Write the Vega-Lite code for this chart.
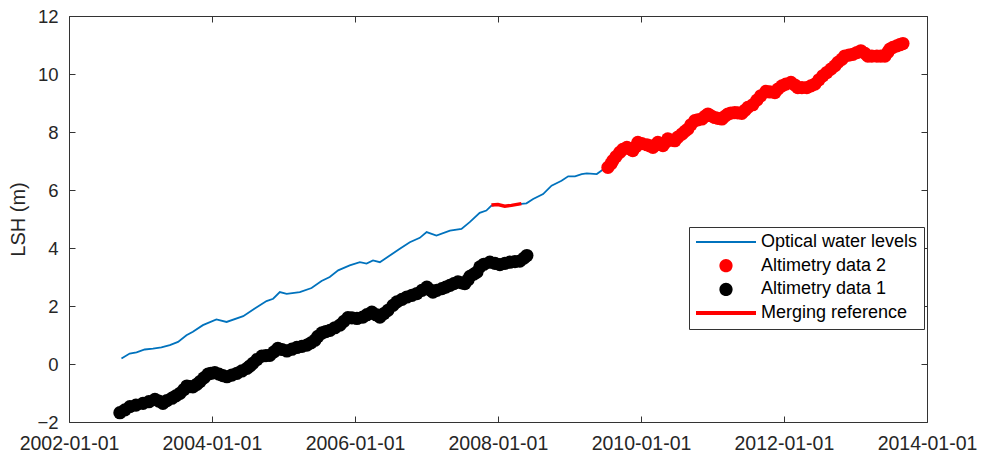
{
  "$schema": "https://vega.github.io/schema/vega-lite/v6.json",
  "width": 858,
  "height": 406,
  "autosize": {"type": "none"},
  "padding": {"left": 69, "top": 16, "right": 55, "bottom": 36},
  "background": "white",
  "config": {
    "view": {"stroke": "#333333", "strokeWidth": 1},
    "axis": {
      "domain": false,
      "grid": false,
      "labelFont": "Liberation Sans",
      "labelFontSize": 18.5,
      "labelColor": "#262626",
      "labelOverlap": false,
      "labelFlush": false,
      "labelBound": false,
      "tickColor": "#333333",
      "tickSize": -6,
      "tickWidth": 1,
      "titleFont": "Liberation Sans",
      "titleFontWeight": "normal",
      "titleColor": "#262626"
    }
  },
  "data": {
    "values": [
      {"date": "2002-09-26", "lsh": 0.19, "series": "Optical water levels"},
      {"date": "2002-11-07", "lsh": 0.36, "series": "Optical water levels"},
      {"date": "2002-12-12", "lsh": 0.40, "series": "Optical water levels"},
      {"date": "2003-01-23", "lsh": 0.50, "series": "Optical water levels"},
      {"date": "2003-03-06", "lsh": 0.53, "series": "Optical water levels"},
      {"date": "2003-04-18", "lsh": 0.57, "series": "Optical water levels"},
      {"date": "2003-05-31", "lsh": 0.65, "series": "Optical water levels"},
      {"date": "2003-07-12", "lsh": 0.76, "series": "Optical water levels"},
      {"date": "2003-08-24", "lsh": 0.99, "series": "Optical water levels"},
      {"date": "2003-09-26", "lsh": 1.11, "series": "Optical water levels"},
      {"date": "2003-11-16", "lsh": 1.34, "series": "Optical water levels"},
      {"date": "2004-01-24", "lsh": 1.54, "series": "Optical water levels"},
      {"date": "2004-03-16", "lsh": 1.45, "series": "Optical water levels"},
      {"date": "2004-06-09", "lsh": 1.65, "series": "Optical water levels"},
      {"date": "2004-08-07", "lsh": 1.91, "series": "Optical water levels"},
      {"date": "2004-10-06", "lsh": 2.17, "series": "Optical water levels"},
      {"date": "2004-11-09", "lsh": 2.25, "series": "Optical water levels"},
      {"date": "2004-12-13", "lsh": 2.48, "series": "Optical water levels"},
      {"date": "2005-01-17", "lsh": 2.42, "series": "Optical water levels"},
      {"date": "2005-03-25", "lsh": 2.48, "series": "Optical water levels"},
      {"date": "2005-05-24", "lsh": 2.62, "series": "Optical water levels"},
      {"date": "2005-07-14", "lsh": 2.86, "series": "Optical water levels"},
      {"date": "2005-08-25", "lsh": 3.00, "series": "Optical water levels"},
      {"date": "2005-10-07", "lsh": 3.23, "series": "Optical water levels"},
      {"date": "2005-12-05", "lsh": 3.40, "series": "Optical water levels"},
      {"date": "2006-01-26", "lsh": 3.51, "series": "Optical water levels"},
      {"date": "2006-03-01", "lsh": 3.46, "series": "Optical water levels"},
      {"date": "2006-04-03", "lsh": 3.57, "series": "Optical water levels"},
      {"date": "2006-05-08", "lsh": 3.51, "series": "Optical water levels"},
      {"date": "2006-06-28", "lsh": 3.74, "series": "Optical water levels"},
      {"date": "2006-08-18", "lsh": 3.97, "series": "Optical water levels"},
      {"date": "2006-10-08", "lsh": 4.20, "series": "Optical water levels"},
      {"date": "2006-11-28", "lsh": 4.35, "series": "Optical water levels"},
      {"date": "2007-01-02", "lsh": 4.55, "series": "Optical water levels"},
      {"date": "2007-02-21", "lsh": 4.43, "series": "Optical water levels"},
      {"date": "2007-05-01", "lsh": 4.60, "series": "Optical water levels"},
      {"date": "2007-06-29", "lsh": 4.66, "series": "Optical water levels"},
      {"date": "2007-08-10", "lsh": 4.89, "series": "Optical water levels"},
      {"date": "2007-09-30", "lsh": 5.21, "series": "Optical water levels"},
      {"date": "2007-11-03", "lsh": 5.29, "series": "Optical water levels"},
      {"date": "2007-11-29", "lsh": 5.46, "series": "Optical water levels"},
      {"date": "2008-01-01", "lsh": 5.50, "series": "Optical water levels"},
      {"date": "2008-02-05", "lsh": 5.44, "series": "Optical water levels"},
      {"date": "2008-03-10", "lsh": 5.47, "series": "Optical water levels"},
      {"date": "2008-04-30", "lsh": 5.52, "series": "Optical water levels"},
      {"date": "2008-05-26", "lsh": 5.54, "series": "Optical water levels"},
      {"date": "2008-06-29", "lsh": 5.69, "series": "Optical water levels"},
      {"date": "2008-08-19", "lsh": 5.86, "series": "Optical water levels"},
      {"date": "2008-10-01", "lsh": 6.15, "series": "Optical water levels"},
      {"date": "2008-11-21", "lsh": 6.32, "series": "Optical water levels"},
      {"date": "2008-12-25", "lsh": 6.47, "series": "Optical water levels"},
      {"date": "2009-01-29", "lsh": 6.47, "series": "Optical water levels"},
      {"date": "2009-03-04", "lsh": 6.55, "series": "Optical water levels"},
      {"date": "2009-03-30", "lsh": 6.57, "series": "Optical water levels"},
      {"date": "2009-05-20", "lsh": 6.55, "series": "Optical water levels"},
      {"date": "2009-06-14", "lsh": 6.67, "series": "Optical water levels"},
      {"date": "2009-07-10", "lsh": 6.78, "series": "Optical water levels"},
      {"date": "2007-11-29", "lsh": 5.48, "series": "Merging reference"},
      {"date": "2008-01-01", "lsh": 5.50, "series": "Merging reference"},
      {"date": "2008-02-05", "lsh": 5.44, "series": "Merging reference"},
      {"date": "2008-03-10", "lsh": 5.47, "series": "Merging reference"},
      {"date": "2008-04-30", "lsh": 5.53, "series": "Merging reference"},
      {"date": "2002-09-18", "lsh": -1.68, "series": "Altimetry data 1"},
      {"date": "2002-10-14", "lsh": -1.58, "series": "Altimetry data 1"},
      {"date": "2002-11-08", "lsh": -1.47, "series": "Altimetry data 1"},
      {"date": "2002-12-09", "lsh": -1.42, "series": "Altimetry data 1"},
      {"date": "2003-01-14", "lsh": -1.36, "series": "Altimetry data 1"},
      {"date": "2003-02-13", "lsh": -1.30, "series": "Altimetry data 1"},
      {"date": "2003-03-16", "lsh": -1.22, "series": "Altimetry data 1"},
      {"date": "2003-04-05", "lsh": -1.28, "series": "Altimetry data 1"},
      {"date": "2003-04-26", "lsh": -1.36, "series": "Altimetry data 1"},
      {"date": "2003-05-16", "lsh": -1.26, "series": "Altimetry data 1"},
      {"date": "2003-06-11", "lsh": -1.18, "series": "Altimetry data 1"},
      {"date": "2003-07-01", "lsh": -1.10, "series": "Altimetry data 1"},
      {"date": "2003-07-22", "lsh": -1.01, "series": "Altimetry data 1"},
      {"date": "2003-08-11", "lsh": -0.88, "series": "Altimetry data 1"},
      {"date": "2003-08-26", "lsh": -0.76, "series": "Altimetry data 1"},
      {"date": "2003-09-11", "lsh": -0.78, "series": "Altimetry data 1"},
      {"date": "2003-09-26", "lsh": -0.79, "series": "Altimetry data 1"},
      {"date": "2003-10-16", "lsh": -0.70, "series": "Altimetry data 1"},
      {"date": "2003-11-01", "lsh": -0.61, "series": "Altimetry data 1"},
      {"date": "2003-11-21", "lsh": -0.48, "series": "Altimetry data 1"},
      {"date": "2003-12-12", "lsh": -0.35, "series": "Altimetry data 1"},
      {"date": "2003-12-27", "lsh": -0.32, "series": "Altimetry data 1"},
      {"date": "2004-01-16", "lsh": -0.30, "series": "Altimetry data 1"},
      {"date": "2004-02-06", "lsh": -0.35, "series": "Altimetry data 1"},
      {"date": "2004-02-26", "lsh": -0.40, "series": "Altimetry data 1"},
      {"date": "2004-03-18", "lsh": -0.44, "series": "Altimetry data 1"},
      {"date": "2004-04-12", "lsh": -0.38, "series": "Altimetry data 1"},
      {"date": "2004-05-08", "lsh": -0.32, "series": "Altimetry data 1"},
      {"date": "2004-06-02", "lsh": -0.24, "series": "Altimetry data 1"},
      {"date": "2004-06-28", "lsh": -0.15, "series": "Altimetry data 1"},
      {"date": "2004-07-13", "lsh": -0.07, "series": "Altimetry data 1"},
      {"date": "2004-07-28", "lsh": 0.02, "series": "Altimetry data 1"},
      {"date": "2004-08-18", "lsh": 0.15, "series": "Altimetry data 1"},
      {"date": "2004-09-12", "lsh": 0.27, "series": "Altimetry data 1"},
      {"date": "2004-10-03", "lsh": 0.29, "series": "Altimetry data 1"},
      {"date": "2004-10-23", "lsh": 0.30, "series": "Altimetry data 1"},
      {"date": "2004-11-13", "lsh": 0.42, "series": "Altimetry data 1"},
      {"date": "2004-12-03", "lsh": 0.54, "series": "Altimetry data 1"},
      {"date": "2004-12-24", "lsh": 0.50, "series": "Altimetry data 1"},
      {"date": "2005-01-18", "lsh": 0.45, "series": "Altimetry data 1"},
      {"date": "2005-02-13", "lsh": 0.51, "series": "Altimetry data 1"},
      {"date": "2005-03-10", "lsh": 0.57, "series": "Altimetry data 1"},
      {"date": "2005-04-05", "lsh": 0.61, "series": "Altimetry data 1"},
      {"date": "2005-04-30", "lsh": 0.65, "series": "Altimetry data 1"},
      {"date": "2005-05-21", "lsh": 0.73, "series": "Altimetry data 1"},
      {"date": "2005-06-10", "lsh": 0.82, "series": "Altimetry data 1"},
      {"date": "2005-06-25", "lsh": 0.95, "series": "Altimetry data 1"},
      {"date": "2005-07-16", "lsh": 1.07, "series": "Altimetry data 1"},
      {"date": "2005-08-05", "lsh": 1.12, "series": "Altimetry data 1"},
      {"date": "2005-08-26", "lsh": 1.16, "series": "Altimetry data 1"},
      {"date": "2005-09-20", "lsh": 1.25, "series": "Altimetry data 1"},
      {"date": "2005-10-16", "lsh": 1.34, "series": "Altimetry data 1"},
      {"date": "2005-11-05", "lsh": 1.47, "series": "Altimetry data 1"},
      {"date": "2005-11-26", "lsh": 1.60, "series": "Altimetry data 1"},
      {"date": "2005-12-16", "lsh": 1.59, "series": "Altimetry data 1"},
      {"date": "2006-01-11", "lsh": 1.57, "series": "Altimetry data 1"},
      {"date": "2006-02-10", "lsh": 1.62, "series": "Altimetry data 1"},
      {"date": "2006-03-03", "lsh": 1.70, "series": "Altimetry data 1"},
      {"date": "2006-03-28", "lsh": 1.79, "series": "Altimetry data 1"},
      {"date": "2006-04-18", "lsh": 1.70, "series": "Altimetry data 1"},
      {"date": "2006-05-08", "lsh": 1.62, "series": "Altimetry data 1"},
      {"date": "2006-05-29", "lsh": 1.74, "series": "Altimetry data 1"},
      {"date": "2006-06-18", "lsh": 1.85, "series": "Altimetry data 1"},
      {"date": "2006-07-14", "lsh": 2.02, "series": "Altimetry data 1"},
      {"date": "2006-08-03", "lsh": 2.14, "series": "Altimetry data 1"},
      {"date": "2006-08-29", "lsh": 2.23, "series": "Altimetry data 1"},
      {"date": "2006-09-23", "lsh": 2.31, "series": "Altimetry data 1"},
      {"date": "2006-10-19", "lsh": 2.37, "series": "Altimetry data 1"},
      {"date": "2006-11-13", "lsh": 2.43, "series": "Altimetry data 1"},
      {"date": "2006-12-09", "lsh": 2.54, "series": "Altimetry data 1"},
      {"date": "2007-01-03", "lsh": 2.65, "series": "Altimetry data 1"},
      {"date": "2007-01-19", "lsh": 2.56, "series": "Altimetry data 1"},
      {"date": "2007-02-03", "lsh": 2.48, "series": "Altimetry data 1"},
      {"date": "2007-02-23", "lsh": 2.54, "series": "Altimetry data 1"},
      {"date": "2007-03-21", "lsh": 2.60, "series": "Altimetry data 1"},
      {"date": "2007-04-10", "lsh": 2.65, "series": "Altimetry data 1"},
      {"date": "2007-05-01", "lsh": 2.71, "series": "Altimetry data 1"},
      {"date": "2007-05-21", "lsh": 2.77, "series": "Altimetry data 1"},
      {"date": "2007-06-11", "lsh": 2.83, "series": "Altimetry data 1"},
      {"date": "2007-07-01", "lsh": 2.80, "series": "Altimetry data 1"},
      {"date": "2007-07-16", "lsh": 2.77, "series": "Altimetry data 1"},
      {"date": "2007-08-01", "lsh": 2.90, "series": "Altimetry data 1"},
      {"date": "2007-08-11", "lsh": 3.02, "series": "Altimetry data 1"},
      {"date": "2007-08-31", "lsh": 3.10, "series": "Altimetry data 1"},
      {"date": "2007-09-16", "lsh": 3.17, "series": "Altimetry data 1"},
      {"date": "2007-10-01", "lsh": 3.35, "series": "Altimetry data 1"},
      {"date": "2007-10-21", "lsh": 3.44, "series": "Altimetry data 1"},
      {"date": "2007-11-21", "lsh": 3.51, "series": "Altimetry data 1"},
      {"date": "2007-12-17", "lsh": 3.47, "series": "Altimetry data 1"},
      {"date": "2008-01-11", "lsh": 3.43, "series": "Altimetry data 1"},
      {"date": "2008-02-06", "lsh": 3.47, "series": "Altimetry data 1"},
      {"date": "2008-03-02", "lsh": 3.51, "series": "Altimetry data 1"},
      {"date": "2008-03-28", "lsh": 3.53, "series": "Altimetry data 1"},
      {"date": "2008-04-22", "lsh": 3.55, "series": "Altimetry data 1"},
      {"date": "2008-05-13", "lsh": 3.65, "series": "Altimetry data 1"},
      {"date": "2008-05-28", "lsh": 3.74, "series": "Altimetry data 1"},
      {"date": "2009-07-16", "lsh": 6.78, "series": "Altimetry data 2"},
      {"date": "2009-07-31", "lsh": 6.90, "series": "Altimetry data 2"},
      {"date": "2009-08-10", "lsh": 7.01, "series": "Altimetry data 2"},
      {"date": "2009-08-26", "lsh": 7.15, "series": "Altimetry data 2"},
      {"date": "2009-09-15", "lsh": 7.30, "series": "Altimetry data 2"},
      {"date": "2009-09-30", "lsh": 7.40, "series": "Altimetry data 2"},
      {"date": "2009-10-21", "lsh": 7.47, "series": "Altimetry data 2"},
      {"date": "2009-11-05", "lsh": 7.42, "series": "Altimetry data 2"},
      {"date": "2009-11-20", "lsh": 7.36, "series": "Altimetry data 2"},
      {"date": "2009-12-06", "lsh": 7.50, "series": "Altimetry data 2"},
      {"date": "2009-12-16", "lsh": 7.64, "series": "Altimetry data 2"},
      {"date": "2010-01-05", "lsh": 7.60, "series": "Altimetry data 2"},
      {"date": "2010-01-31", "lsh": 7.56, "series": "Altimetry data 2"},
      {"date": "2010-02-15", "lsh": 7.52, "series": "Altimetry data 2"},
      {"date": "2010-03-03", "lsh": 7.47, "series": "Altimetry data 2"},
      {"date": "2010-03-18", "lsh": 7.56, "series": "Altimetry data 2"},
      {"date": "2010-03-28", "lsh": 7.64, "series": "Altimetry data 2"},
      {"date": "2010-04-12", "lsh": 7.58, "series": "Altimetry data 2"},
      {"date": "2010-04-23", "lsh": 7.53, "series": "Altimetry data 2"},
      {"date": "2010-05-08", "lsh": 7.65, "series": "Altimetry data 2"},
      {"date": "2010-05-18", "lsh": 7.76, "series": "Altimetry data 2"},
      {"date": "2010-06-08", "lsh": 7.72, "series": "Altimetry data 2"},
      {"date": "2010-06-23", "lsh": 7.70, "series": "Altimetry data 2"},
      {"date": "2010-07-08", "lsh": 7.82, "series": "Altimetry data 2"},
      {"date": "2010-07-29", "lsh": 7.93, "series": "Altimetry data 2"},
      {"date": "2010-08-13", "lsh": 8.02, "series": "Altimetry data 2"},
      {"date": "2010-08-28", "lsh": 8.10, "series": "Altimetry data 2"},
      {"date": "2010-09-13", "lsh": 8.25, "series": "Altimetry data 2"},
      {"date": "2010-10-03", "lsh": 8.39, "series": "Altimetry data 2"},
      {"date": "2010-10-18", "lsh": 8.42, "series": "Altimetry data 2"},
      {"date": "2010-11-08", "lsh": 8.45, "series": "Altimetry data 2"},
      {"date": "2010-11-23", "lsh": 8.54, "series": "Altimetry data 2"},
      {"date": "2010-12-09", "lsh": 8.62, "series": "Altimetry data 2"},
      {"date": "2010-12-24", "lsh": 8.56, "series": "Altimetry data 2"},
      {"date": "2011-01-13", "lsh": 8.50, "series": "Altimetry data 2"},
      {"date": "2011-01-29", "lsh": 8.47, "series": "Altimetry data 2"},
      {"date": "2011-02-18", "lsh": 8.45, "series": "Altimetry data 2"},
      {"date": "2011-03-05", "lsh": 8.54, "series": "Altimetry data 2"},
      {"date": "2011-03-21", "lsh": 8.62, "series": "Altimetry data 2"},
      {"date": "2011-04-05", "lsh": 8.65, "series": "Altimetry data 2"},
      {"date": "2011-04-25", "lsh": 8.67, "series": "Altimetry data 2"},
      {"date": "2011-05-11", "lsh": 8.66, "series": "Altimetry data 2"},
      {"date": "2011-05-31", "lsh": 8.64, "series": "Altimetry data 2"},
      {"date": "2011-06-16", "lsh": 8.75, "series": "Altimetry data 2"},
      {"date": "2011-07-01", "lsh": 8.85, "series": "Altimetry data 2"},
      {"date": "2011-07-26", "lsh": 8.94, "series": "Altimetry data 2"},
      {"date": "2011-08-16", "lsh": 9.10, "series": "Altimetry data 2"},
      {"date": "2011-09-05", "lsh": 9.25, "series": "Altimetry data 2"},
      {"date": "2011-10-01", "lsh": 9.40, "series": "Altimetry data 2"},
      {"date": "2011-10-21", "lsh": 9.38, "series": "Altimetry data 2"},
      {"date": "2011-11-16", "lsh": 9.36, "series": "Altimetry data 2"},
      {"date": "2011-12-01", "lsh": 9.48, "series": "Altimetry data 2"},
      {"date": "2011-12-22", "lsh": 9.59, "series": "Altimetry data 2"},
      {"date": "2012-01-11", "lsh": 9.65, "series": "Altimetry data 2"},
      {"date": "2012-02-06", "lsh": 9.71, "series": "Altimetry data 2"},
      {"date": "2012-02-26", "lsh": 9.62, "series": "Altimetry data 2"},
      {"date": "2012-03-12", "lsh": 9.53, "series": "Altimetry data 2"},
      {"date": "2012-04-02", "lsh": 9.53, "series": "Altimetry data 2"},
      {"date": "2012-04-27", "lsh": 9.53, "series": "Altimetry data 2"},
      {"date": "2012-05-18", "lsh": 9.59, "series": "Altimetry data 2"},
      {"date": "2012-06-07", "lsh": 9.65, "series": "Altimetry data 2"},
      {"date": "2012-06-28", "lsh": 9.80, "series": "Altimetry data 2"},
      {"date": "2012-07-18", "lsh": 9.94, "series": "Altimetry data 2"},
      {"date": "2012-08-07", "lsh": 10.05, "series": "Altimetry data 2"},
      {"date": "2012-08-28", "lsh": 10.17, "series": "Altimetry data 2"},
      {"date": "2012-09-17", "lsh": 10.28, "series": "Altimetry data 2"},
      {"date": "2012-10-03", "lsh": 10.40, "series": "Altimetry data 2"},
      {"date": "2012-10-23", "lsh": 10.51, "series": "Altimetry data 2"},
      {"date": "2012-11-07", "lsh": 10.62, "series": "Altimetry data 2"},
      {"date": "2012-11-28", "lsh": 10.65, "series": "Altimetry data 2"},
      {"date": "2012-12-18", "lsh": 10.68, "series": "Altimetry data 2"},
      {"date": "2013-01-08", "lsh": 10.74, "series": "Altimetry data 2"},
      {"date": "2013-01-28", "lsh": 10.80, "series": "Altimetry data 2"},
      {"date": "2013-02-18", "lsh": 10.71, "series": "Altimetry data 2"},
      {"date": "2013-03-05", "lsh": 10.62, "series": "Altimetry data 2"},
      {"date": "2013-03-25", "lsh": 10.62, "series": "Altimetry data 2"},
      {"date": "2013-04-20", "lsh": 10.62, "series": "Altimetry data 2"},
      {"date": "2013-05-10", "lsh": 10.62, "series": "Altimetry data 2"},
      {"date": "2013-05-31", "lsh": 10.62, "series": "Altimetry data 2"},
      {"date": "2013-06-15", "lsh": 10.75, "series": "Altimetry data 2"},
      {"date": "2013-06-25", "lsh": 10.86, "series": "Altimetry data 2"},
      {"date": "2013-07-11", "lsh": 10.92, "series": "Altimetry data 2"},
      {"date": "2013-07-31", "lsh": 10.97, "series": "Altimetry data 2"},
      {"date": "2013-08-15", "lsh": 11.01, "series": "Altimetry data 2"},
      {"date": "2013-08-31", "lsh": 11.05, "series": "Altimetry data 2"}
    ]
  },
  "encoding": {
    "color": {
      "field": "series",
      "type": "nominal",
      "scale": {
        "domain": ["Optical water levels", "Altimetry data 2", "Altimetry data 1", "Merging reference"],
        "range": ["#0072BD", "#FF0000", "#000000", "#FF0000"]
      },
      "legend": {
        "title": null,
        "orient": "none",
        "legendX": 620,
        "legendY": 211,
        "direction": "vertical",
        "labelFont": "Liberation Sans",
        "labelFontSize": 18,
        "labelColor": "#000000",
        "labelLimit": 400,
        "labelOffset": 26,
        "symbolOffset": 22,
        "strokeColor": "#333333",
        "fillColor": "#ffffff",
        "padding": 6,
        "clipHeight": 18,
        "rowPadding": 5.7,
        "symbolSize": 3600,
        "symbolStrokeWidth": 2,
        "encode": {
          "symbols": {
            "update": {
              "shape": {"signal": "(datum.value === 'Altimetry data 1' || datum.value === 'Altimetry data 2') ? 'M-0.22,0A0.22,0.22,0,1,1,0.22,0A0.22,0.22,0,1,1,-0.22,0Z' : 'M-1,0L1,0'"},
              "size": {"value": 3600},
              "strokeWidth": {"signal": "datum.value === 'Merging reference' ? 4 : (datum.value === 'Optical water levels' ? 2 : 0)"},
              "fill": {"signal": "(datum.value === 'Altimetry data 1' || datum.value === 'Altimetry data 2') ? scale('color', datum.value) : 'transparent'"},
              "stroke": {"signal": "scale('color', datum.value)"},
              "opacity": {"value": 1},
              "fillOpacity": {"value": 1},
              "strokeOpacity": {"value": 1}
            }
          }
        }
      }
    }
  },
  "layer": [
    {
      "transform": [{"filter": "datum.series === 'Optical water levels'"}],
      "mark": {"type": "line", "strokeWidth": 1.8},
      "encoding": {
        "x": {
          "field": "date",
          "type": "temporal",
          "scale": {"type": "utc", "domain": [{"year": 2002, "month": 1, "date": 1, "utc": true}, {"year": 2014, "month": 1, "date": 1, "utc": true}]},
          "axis": {
            "orient": "bottom",
            "title": null,
            "format": "%Y-%m-%d",
            "labelFontSize": 19.5,
            "labelPadding": 18,
            "values": [
              {"year": 2002, "month": 1, "date": 1, "utc": true},
              {"year": 2004, "month": 1, "date": 1, "utc": true},
              {"year": 2006, "month": 1, "date": 1, "utc": true},
              {"year": 2008, "month": 1, "date": 1, "utc": true},
              {"year": 2010, "month": 1, "date": 1, "utc": true},
              {"year": 2012, "month": 1, "date": 1, "utc": true},
              {"year": 2014, "month": 1, "date": 1, "utc": true}
            ]
          }
        },
        "y": {
          "field": "lsh",
          "type": "quantitative",
          "scale": {"domain": [-2, 12], "nice": false, "zero": false},
          "axis": {
            "orient": "left",
            "title": "LSH (m)",
            "titleFontSize": 20,
            "titlePadding": 8,
            "labelPadding": 17,
            "values": [-2, 0, 2, 4, 6, 8, 10, 12]
          }
        }
      }
    },
    {
      "transform": [{"filter": "datum.series === 'Merging reference'"}],
      "mark": {"type": "line", "strokeWidth": 3.5},
      "encoding": {
        "x": {"field": "date", "type": "temporal", "axis": null},
        "y": {"field": "lsh", "type": "quantitative", "axis": null}
      }
    },
    {
      "transform": [{"filter": "datum.series === 'Altimetry data 1' || datum.series === 'Altimetry data 2'"}],
      "mark": {"type": "circle", "size": 175, "opacity": 1},
      "encoding": {
        "x": {
          "field": "date",
          "type": "temporal",
          "axis": {
            "orient": "top",
            "title": null,
            "labels": false,
            "values": [
              {"year": 2002, "month": 1, "date": 1, "utc": true},
              {"year": 2004, "month": 1, "date": 1, "utc": true},
              {"year": 2006, "month": 1, "date": 1, "utc": true},
              {"year": 2008, "month": 1, "date": 1, "utc": true},
              {"year": 2010, "month": 1, "date": 1, "utc": true},
              {"year": 2012, "month": 1, "date": 1, "utc": true},
              {"year": 2014, "month": 1, "date": 1, "utc": true}
            ]
          }
        },
        "y": {
          "field": "lsh",
          "type": "quantitative",
          "axis": {"orient": "right", "title": null, "labels": false, "values": [-2, 0, 2, 4, 6, 8, 10, 12]}
        }
      }
    }
  ],
  "resolve": {"axis": {"x": "independent", "y": "independent"}}
}
